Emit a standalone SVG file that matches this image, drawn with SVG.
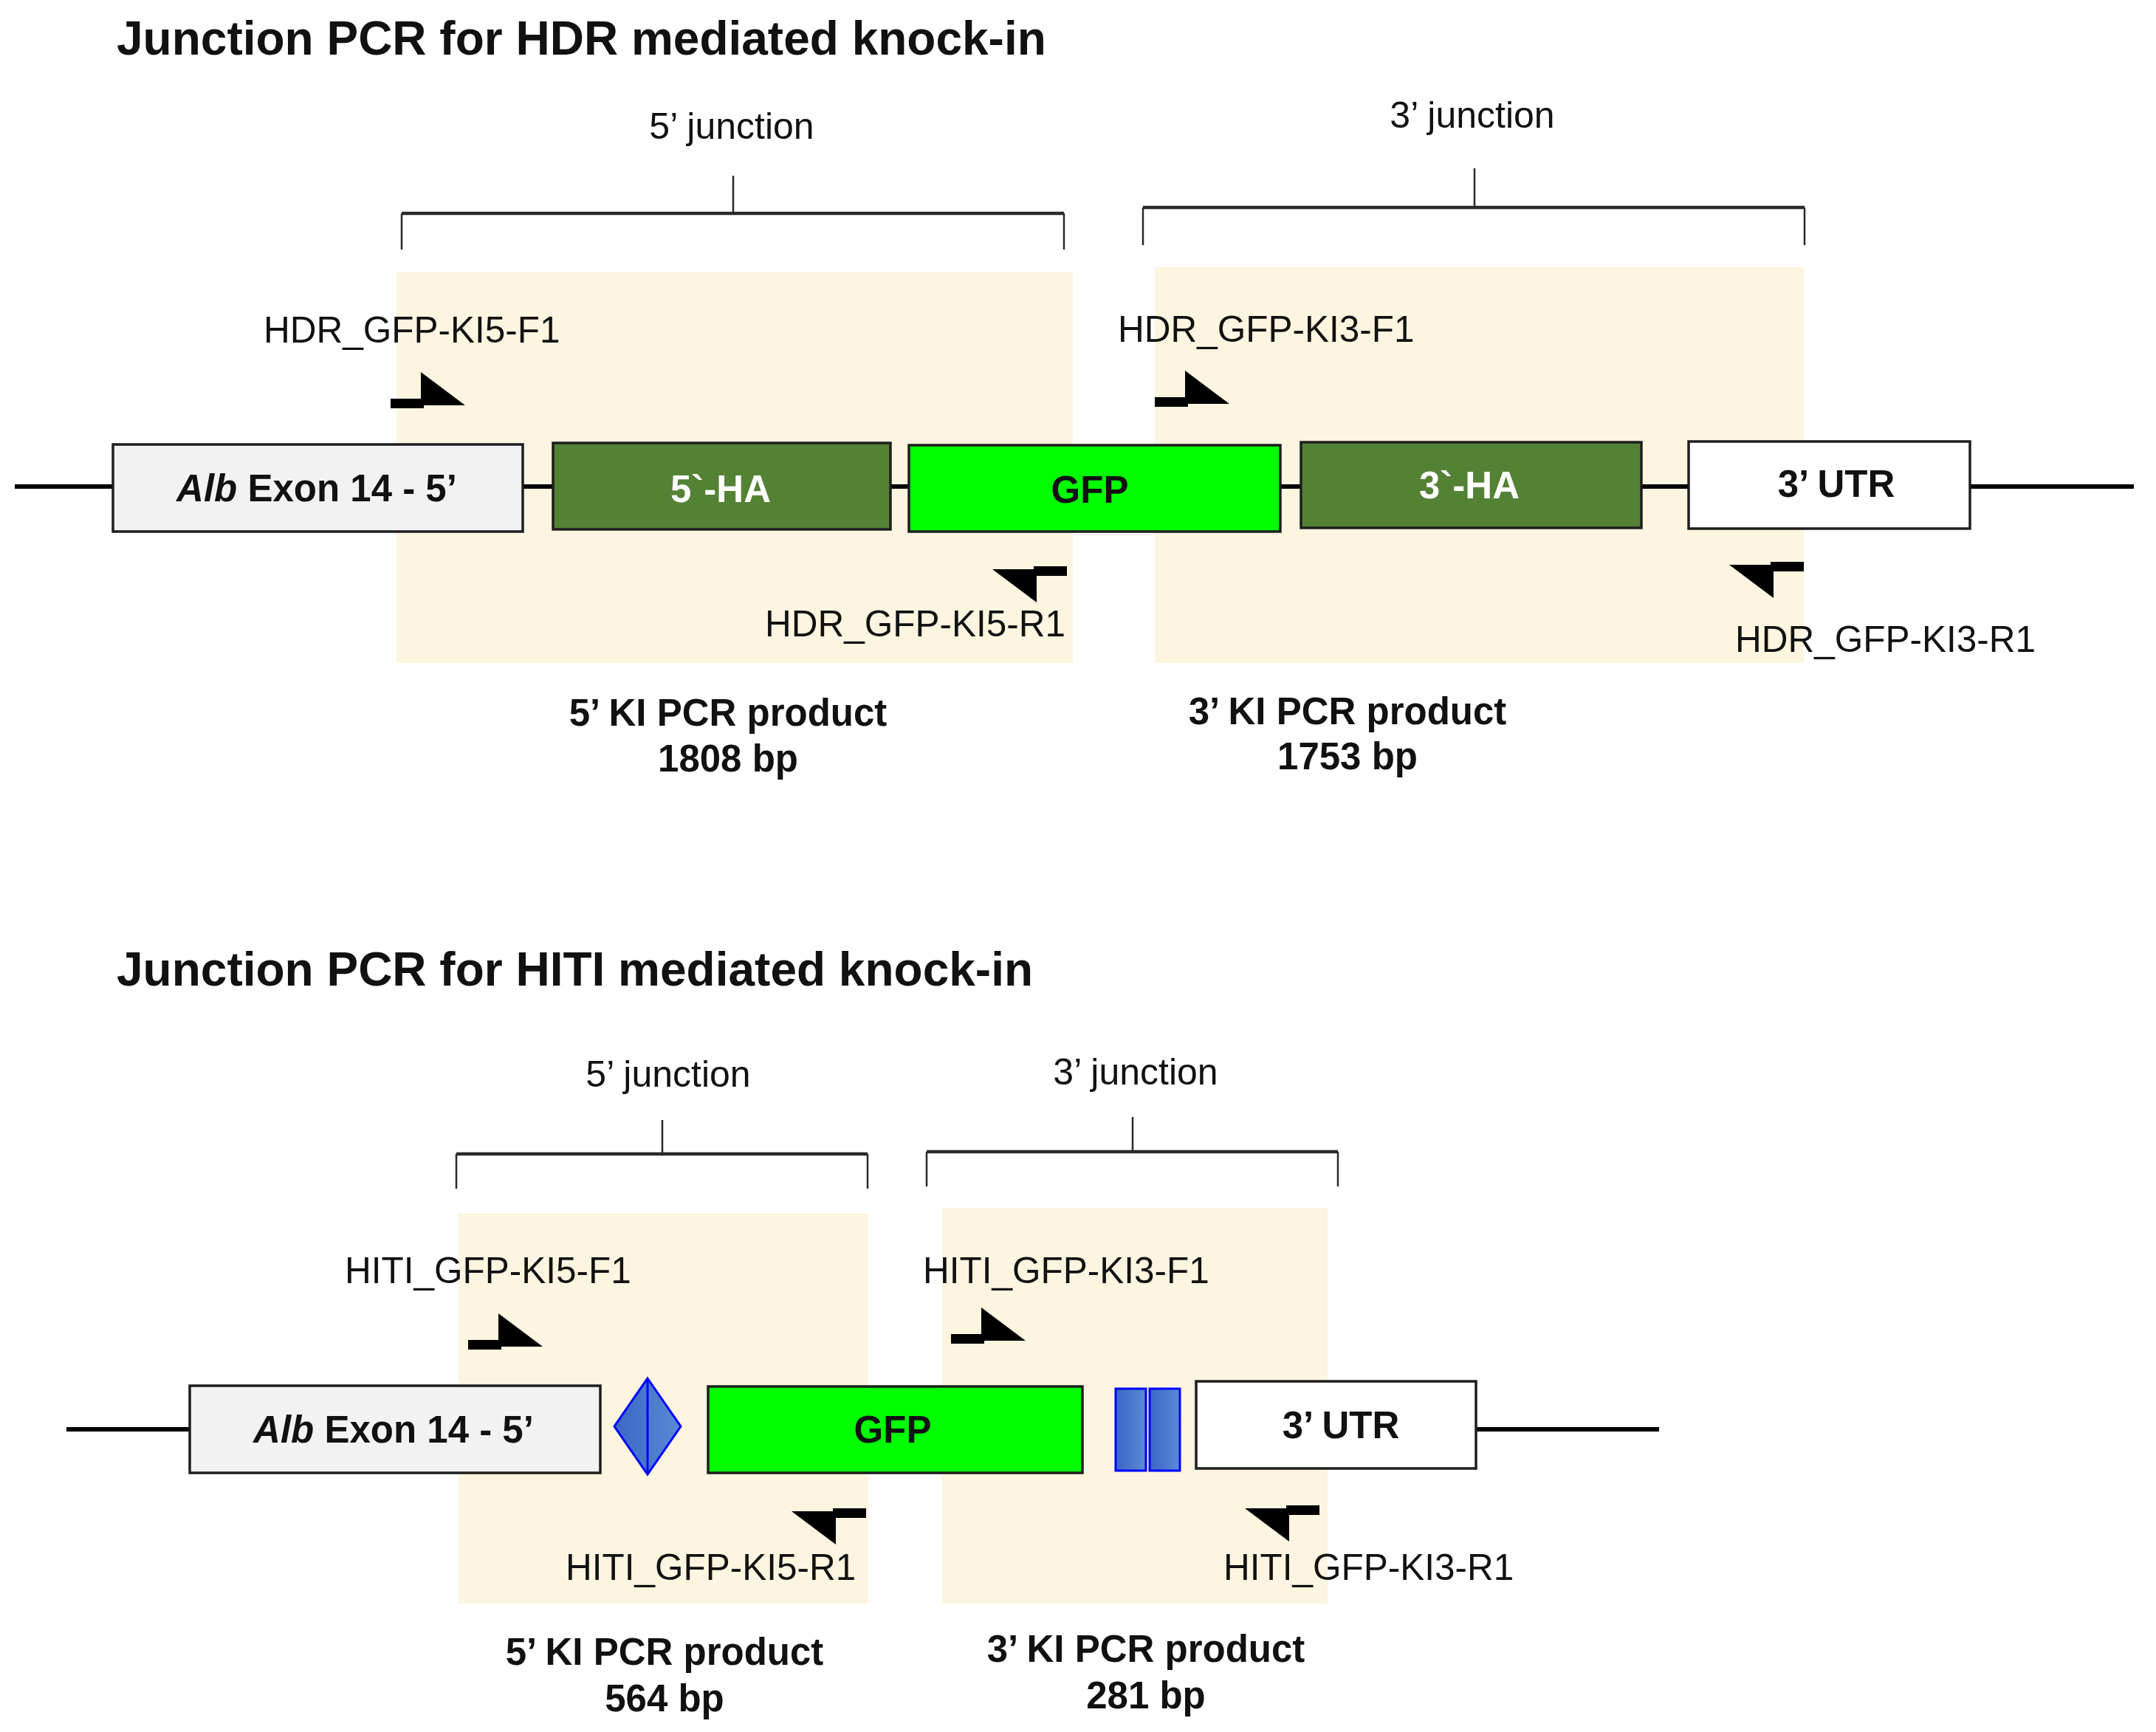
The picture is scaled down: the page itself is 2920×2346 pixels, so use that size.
<svg xmlns="http://www.w3.org/2000/svg" width="2920" height="2346" viewBox="0 0 2920 2346">
<defs>
<style>
text{font-family:"Liberation Sans",Arial,sans-serif;fill:#111}
.title{font-size:64px;font-weight:bold}
.junc{font-size:50px;text-anchor:middle}
.plab{font-size:49.5px}
.prod{font-size:51px;font-weight:bold;text-anchor:middle}
.blab{font-size:51px;font-weight:bold;text-anchor:middle}
.wht{fill:#ffffff}
.box{stroke:#1e1e1e;stroke-width:3.5}
.alb{fill:#f2f2f2}
.ha{fill:#548235}
.gfp{fill:#00ff00}
.utr{fill:#ffffff}
.beige{fill:#fdf5e0}
.dna{stroke:#000;stroke-width:6;fill:none}
.brk{stroke:#2a2a2a;fill:none;stroke-width:2.5}
.brkh{stroke:#2a2a2a;stroke-width:4.5;fill:none}
.primer{fill:#000}
.blue{stroke:#0000ff;stroke-width:3}
</style>
<linearGradient id="bg" x1="0" y1="0" x2="1" y2="0">
<stop offset="0" stop-color="#3a66c4"/>
<stop offset="1" stop-color="#5b8ad6"/>
</linearGradient>
<path id="fwd" d="M0,0 V-13 H41 V-49 L101,-4 H45 V0 Z"/>
</defs>
<rect width="2920" height="2346" fill="#ffffff"/>

<!-- ===== HDR panel ===== -->
<g id="hdr-title"><text class="title" x="158" y="74">Junction PCR for HDR mediated knock-in</text></g>

<g id="hdr-amplicons">
<rect class="beige" x="537" y="368" width="916" height="530"/>
<rect class="beige" x="1564" y="362" width="879" height="536"/>
</g>

<g id="hdr-brackets">
<path class="brk" d="M544,338 V289 M1441,338 V289 M993,289 V238"/>
<path class="brkh" d="M544,289 H1441"/>
<path class="brk" d="M1548,332 V281 M2444,332 V281 M1997,281 V228"/>
<path class="brkh" d="M1548,281 H2444"/>
<text class="junc" x="991" y="188">5’ junction</text>
<text class="junc" x="1994" y="173">3’ junction</text>
</g>

<g id="connectors">
<path class="dna" d="M20,659 H2890"/>
<path class="dna" d="M90,1936 H2247"/>
</g>

<g id="hdr-alb">
<rect class="box alb" x="153" y="602" width="555" height="118"/>
<text class="blab" x="429" y="679"><tspan font-style="italic">Alb</tspan> Exon 14 - 5’</text>
</g>
<g id="hdr-5ha">
<rect class="box ha" x="749" y="600" width="457" height="117"/>
<text class="blab wht" x="976" y="680">5`-HA</text>
</g>
<g id="hdr-gfp">
<rect class="box gfp" x="1231" y="603" width="503" height="117"/>
<text class="blab" x="1476" y="681">GFP</text>
</g>
<g id="hdr-3ha">
<rect class="box ha" x="1762" y="599" width="461" height="116"/>
<text class="blab wht" x="1990" y="675">3`-HA</text>
</g>
<g id="hdr-utr">
<rect class="box utr" x="2287" y="598" width="381" height="118"/>
<text class="blab" x="2487" y="673">3’ UTR</text>
</g>

<g id="hdr-primer-ki5-f1">
<use href="#fwd" class="primer" transform="translate(529,553)"/>
<text class="plab" x="357" y="464">HDR_GFP-KI5-F1</text>
</g>
<g id="hdr-primer-ki5-r1">
<use href="#fwd" class="primer" transform="translate(1445,767) rotate(180)"/>
<text class="plab" x="1036" y="862">HDR_GFP-KI5-R1</text>
</g>
<g id="hdr-primer-ki3-f1">
<use href="#fwd" class="primer" transform="translate(1564,551)"/>
<text class="plab" x="1514" y="463">HDR_GFP-KI3-F1</text>
</g>
<g id="hdr-primer-ki3-r1">
<use href="#fwd" class="primer" transform="translate(2443,761) rotate(180)"/>
<text class="plab" x="2350" y="883">HDR_GFP-KI3-R1</text>
</g>

<g id="hdr-product-5">
<text class="prod" x="986" y="983">5’ KI PCR product</text>
<text class="prod" x="986" y="1045">1808 bp</text>
</g>
<g id="hdr-product-3">
<text class="prod" x="1825" y="981">3’ KI PCR product</text>
<text class="prod" x="1825" y="1042">1753 bp</text>
</g>

<!-- ===== HITI panel ===== -->
<g id="hiti-title"><text class="title" x="158" y="1335">Junction PCR for HITI mediated knock-in</text></g>

<g id="hiti-amplicons">
<rect class="beige" x="621" y="1643" width="555" height="529"/>
<rect class="beige" x="1276" y="1636" width="522" height="536"/>
</g>

<g id="hiti-brackets">
<path class="brk" d="M618,1610 V1563 M1175,1610 V1563 M897,1563 V1517"/>
<path class="brkh" d="M618,1563 H1175"/>
<path class="brk" d="M1255,1607 V1560 M1812,1607 V1560 M1534,1560 V1513"/>
<path class="brkh" d="M1255,1560 H1812"/>
<text class="junc" x="905" y="1472">5’ junction</text>
<text class="junc" x="1538" y="1469">3’ junction</text>
</g>

<g id="hiti-alb">
<rect class="box alb" x="257" y="1877" width="556" height="118"/>
<text class="blab" x="533" y="1954"><tspan font-style="italic">Alb</tspan> Exon 14 - 5’</text>
</g>
<g id="hiti-site5">
<polygon class="blue" fill="url(#bg)" points="877,1867 922,1932 877,1997 832,1932"/>
<line class="blue" x1="877" y1="1867" x2="877" y2="1997"/>
</g>
<g id="hiti-gfp">
<rect class="box gfp" x="959" y="1878" width="507" height="117"/>
<text class="blab" x="1209" y="1954">GFP</text>
</g>
<g id="hiti-site3">
<rect class="blue" fill="url(#bg)" x="1511" y="1881" width="41" height="111"/>
<rect class="blue" fill="url(#bg)" x="1557" y="1881" width="41" height="111"/>
</g>
<g id="hiti-utr">
<rect class="box utr" x="1620" y="1871" width="379" height="118"/>
<text class="blab" x="1816" y="1948">3’ UTR</text>
</g>

<g id="hiti-primer-ki5-f1">
<use href="#fwd" class="primer" transform="translate(634,1828)"/>
<text class="plab" x="467" y="1738">HITI_GFP-KI5-F1</text>
</g>
<g id="hiti-primer-ki5-r1">
<use href="#fwd" class="primer" transform="translate(1173,2043) rotate(180)"/>
<text class="plab" x="766" y="2140">HITI_GFP-KI5-R1</text>
</g>
<g id="hiti-primer-ki3-f1">
<use href="#fwd" class="primer" transform="translate(1288,1820)"/>
<text class="plab" x="1250" y="1738">HITI_GFP-KI3-F1</text>
</g>
<g id="hiti-primer-ki3-r1">
<use href="#fwd" class="primer" transform="translate(1787,2039) rotate(180)"/>
<text class="plab" x="1657" y="2140">HITI_GFP-KI3-R1</text>
</g>

<g id="hiti-product-5">
<text class="prod" x="900" y="2255">5’ KI PCR product</text>
<text class="prod" x="900" y="2318">564 bp</text>
</g>
<g id="hiti-product-3">
<text class="prod" x="1552" y="2251">3’ KI PCR product</text>
<text class="prod" x="1552" y="2314">281 bp</text>
</g>
</svg>
